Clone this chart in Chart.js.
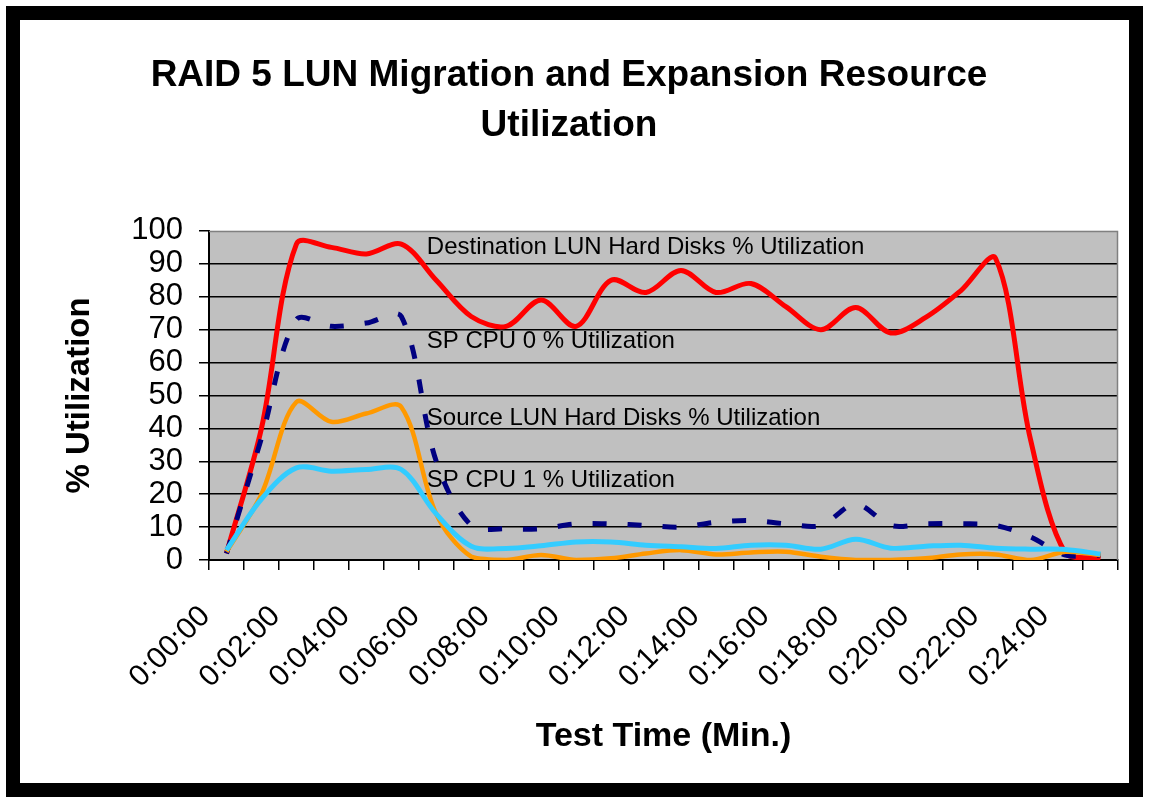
<!DOCTYPE html>
<html>
<head>
<meta charset="utf-8">
<script src="https://cdn.jsdelivr.net/npm/chart.js@4.4.1/dist/chart.umd.min.js"></script>
<style>
html,body{margin:0;padding:0;background:#fff;}
#wrap{width:1149px;height:803px;position:relative;}
</style>
</head>
<body>
<div id="wrap"><canvas id="c"></canvas></div>
<script>
// ---- data ----
const categories = ['0:00:00','0:01:00','0:02:00','0:03:00','0:04:00','0:05:00','0:06:00','0:07:00','0:08:00','0:09:00',
  '0:10:00','0:11:00','0:12:00','0:13:00','0:14:00','0:15:00','0:16:00','0:17:00','0:18:00','0:19:00',
  '0:20:00','0:21:00','0:22:00','0:23:00','0:24:00','0:25:00'];
const destLUN = [2, 40, 96, 95, 93, 96, 85, 74, 71, 79, 71, 85, 81.3, 88, 81.3, 84, 77, 70, 76.7, 69, 73.7, 81.8, 91.6, 36.5, 2, 0.5];
const spCpu0  = [2, 37, 73, 71, 72, 74, 30, 10.5, 9.5, 9.5, 11, 11, 10.5, 10, 11.5, 12, 11, 10.5, 17, 10.5, 11, 11, 10.5, 7, 1.5, 1.5];
const srcLUN  = [2.5, 20, 48, 42, 44.5, 46.5, 14, 1, 0, 1.5, 0, 0.5, 2, 3, 1.7, 2.3, 2.5, 1, 0, 0, 0.5, 1.7, 1.7, 0, 2.5, 1.5];
const spCpu1  = [3, 18.5, 28, 27, 27.5, 27.5, 14, 4.2, 3.5, 4.3, 5.5, 5.5, 4.5, 4, 3.5, 4.5, 4.5, 3.3, 6.3, 3.6, 4.2, 4.5, 3.6, 3.3, 3.2, 1.8];
const seriesNames = ['Destination LUN Hard Disks % Utilization', 'SP CPU 0 % Utilization',
  'Source LUN Hard Disks % Utilization', 'SP CPU 1 % Utilization'];
const titleLines = ['RAID 5 LUN Migration and Expansion Resource', 'Utilization'];
const yAxisTitle = '% Utilization';
const xAxisTitle = 'Test Time (Min.)';

const FONT = "'Liberation Sans', Arial, sans-serif";

// in-plot series captions, anchored in data coordinates
const captions = [
  {text: seriesNames[0], x: 5.73, y: 95.0},
  {text: seriesNames[1], x: 5.73, y: 66.5},
  {text: seriesNames[2], x: 5.73, y: 43.0},
  {text: seriesNames[3], x: 5.73, y: 24.1}
];

const framePlugin = {
  id: 'frame',
  beforeDraw(chart) {
    const {ctx, width, height, chartArea: a} = chart;
    ctx.save();
    ctx.fillStyle = '#fff';
    ctx.fillRect(0, 0, width, height);
    ctx.fillStyle = '#000';
    ctx.fillRect(6, 6, width - 12, height - 12);
    ctx.fillStyle = '#fff';
    ctx.fillRect(20, 20, width - 40, height - 40);
    ctx.fillStyle = '#C0C0C0';
    ctx.fillRect(a.left, a.top, a.right - a.left, a.bottom - a.top);
    ctx.restore();
  },
  beforeDatasetsDraw(chart) {
    const {ctx, chartArea: a, scales} = chart;
    ctx.save();
    ctx.strokeStyle = '#808080';
    ctx.lineWidth = 1.5;
    ctx.beginPath();
    ctx.moveTo(a.left, a.top + 0.5);
    ctx.lineTo(a.right - 0.5, a.top + 0.5);
    ctx.lineTo(a.right - 0.5, a.bottom);
    ctx.stroke();
    ctx.fillStyle = '#000';
    ctx.font = '24px ' + FONT;
    ctx.textAlign = 'left';
    ctx.textBaseline = 'middle';
    captions.forEach(c => {
      ctx.fillText(c.text, scales.x.getPixelForValue(c.x), scales.y.getPixelForValue(c.y));
    });
    ctx.restore();
  }
};

const common = {fill: false, pointRadius: 0, pointHoverRadius: 0, tension: 0.33, borderCapStyle: 'butt', borderJoinStyle: 'round'};

new Chart(document.getElementById('c'), {
  type: 'line',
  data: {
    labels: categories,
    datasets: [
      Object.assign({label: seriesNames[3], data: spCpu1, borderColor: '#33CCFF', borderWidth: 5}, common),
      Object.assign({label: seriesNames[2], data: srcLUN, borderColor: '#FF9900', borderWidth: 4.5}, common),
      Object.assign({label: seriesNames[1], data: spCpu0, borderColor: '#000080', borderWidth: 5, borderDash: [14, 21]}, common),
      Object.assign({label: seriesNames[0], data: destLUN, borderColor: '#FF0000', borderWidth: 5}, common)
    ]
  },
  options: {
    responsive: true,
    maintainAspectRatio: false,
    animation: false,
    layout: {padding: {left: 20, right: 31, top: 20, bottom: 20}},
    plugins: {
      legend: {display: false},
      tooltip: {enabled: false},
      title: {
        display: true,
        text: titleLines,
        color: '#000',
        font: {family: FONT, size: 37, weight: 'bold', lineHeight: 1.35},
        padding: {top: 31, bottom: 80}
      }
    },
    scales: {
      x: {
        type: 'category',
        offset: true,
        afterFit(s) { s.height = 223; s.paddingLeft = 0; s.paddingRight = 0; },
        grid: {display: true, offset: true, drawOnChartArea: false, drawTicks: true, tickLength: 10, color: '#000', tickColor: '#000', lineWidth: 1.5},
        border: {display: true, color: '#000', width: 2},
        ticks: {
          autoSkip: false, maxRotation: 45, minRotation: 45, padding: 29, labelOffset: -21, color: '#000',
          font: {family: FONT, size: 30},
          callback: (v, i) => (i % 2 === 0 ? categories[i] : '')
        },
        title: {display: true, text: xAxisTitle, color: '#000', font: {family: FONT, size: 34, weight: 'bold'}, padding: {top: 0, bottom: 26}}
      },
      y: {
        min: 0, max: 100,
        afterFit(s) { s.width = 189; },
        grid: {
          drawTicks: true, tickLength: 10, tickColor: '#000', lineWidth: 1.5,
          color: c => (c.tick && c.tick.value === 100 ? 'rgba(0,0,0,0)' : '#000')
        },
        border: {display: true, color: '#000', width: 2},
        ticks: {stepSize: 10, autoSkip: false, padding: 16, color: '#000', font: {family: FONT, size: 31, lineHeight: 1}},
        title: {display: true, text: yAxisTitle, color: '#000', font: {family: FONT, size: 33, weight: 'bold'}, padding: {top: 40, bottom: 0}}
      }
    }
  },
  plugins: [framePlugin]
});
</script>
</body>
</html>
